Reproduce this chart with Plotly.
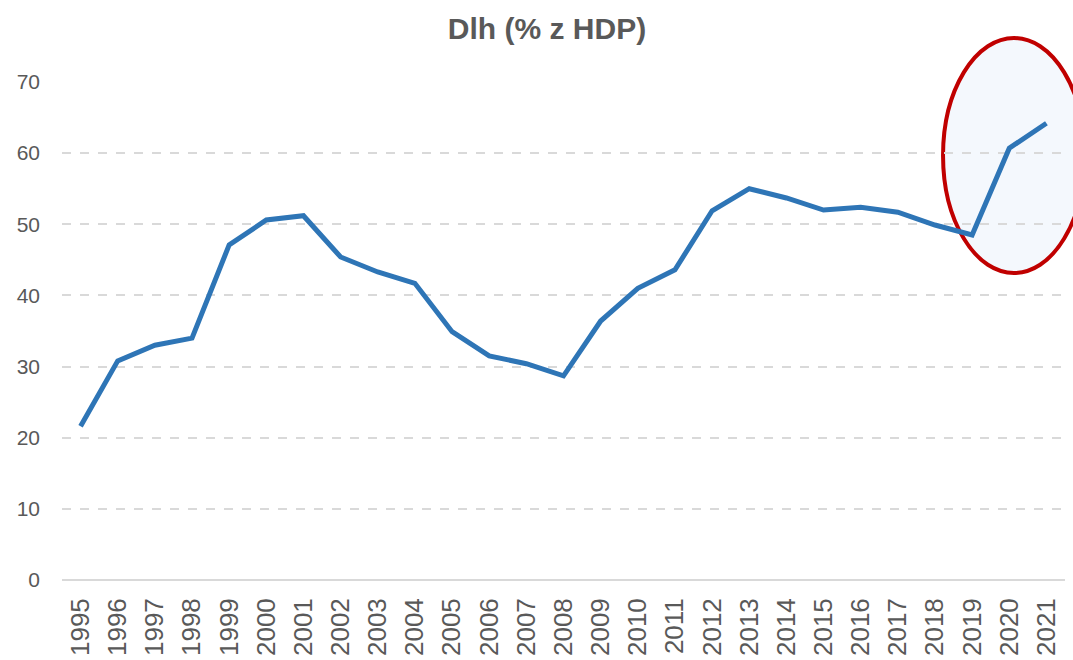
import plotly.graph_objects as go

years = [str(y) for y in range(1995, 2022)]
debt = [21.6, 30.8, 33.0, 34.0, 47.1, 50.6, 51.2, 45.4, 43.3, 41.7, 34.9, 31.5, 30.4, 28.7,
        36.4, 41.0, 43.6, 51.9, 55.0, 53.7, 52.0, 52.4, 51.7, 49.9, 48.5, 60.7, 64.2]

FONT = "Liberation Sans, Arial"

fig = go.Figure()
fig.add_trace(go.Scatter(x=list(range(len(years))), y=debt, mode="lines",
                         line=dict(color="#2E75B6", width=5), hoverinfo="skip"))

# highlight ellipse (paper coords so it is not clipped by the plot area)
fig.add_shape(type="circle", xref="paper", yref="paper", x0=0.8784, x1=1.0199, y0=0.6165, y1=1.0884,
              line=dict(color="#C00000", width=4), fillcolor="#F4F8FD", layer="below")

fig.update_layout(
    width=1073, height=660,
    margin=dict(l=62, r=8, t=82, b=80),
    paper_bgcolor="white", plot_bgcolor="rgba(0,0,0,0)",
    showlegend=False,
    title=dict(text="<b>Dlh (% z HDP)</b>", x=0.5098, xanchor="center", y=0.957, yanchor="middle",
               font=dict(family=FONT, size=30, color="#595959")),
    font=dict(family=FONT, color="#595959", size=21),
)
fig.update_xaxes(tickmode="array", tickvals=list(range(len(years))), ticktext=years,
                 range=[-0.5, 26.5], tickangle=-90, showgrid=False, zeroline=False,
                 showline=False, ticks="", ticklabelstandoff=12,
                 tickfont=dict(family=FONT, size=26, color="#595959"), automargin=False)
fig.update_yaxes(range=[0, 70], dtick=10, showgrid=True, gridcolor="#D9D9D9", griddash="dash",
                 gridwidth=1.5, zeroline=True, zerolinecolor="#D9D9D9", zerolinewidth=1.5,
                 showline=False, ticks="", ticklabelstandoff=21, automargin=False,
                 tickfont=dict(family=FONT, size=21, color="#595959"))

fig.write_html("out.html", config={"displayModeBar": False},
               post_script="document.body.style.margin='0';")
